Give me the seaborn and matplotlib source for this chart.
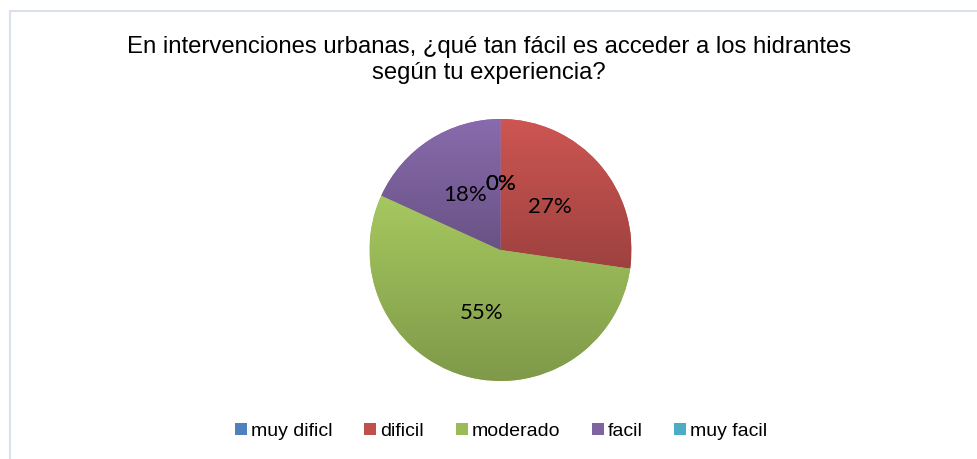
import numpy as np
import matplotlib
matplotlib.use("Agg")
import matplotlib.pyplot as plt
import matplotlib.colors as mcolors
from matplotlib.lines import Line2D
import seaborn as sns

categories = ["muy dificl", "dificil", "moderado", "facil", "muy facil"]
counts = [0, 3, 6, 2, 0]
pct_labels = ["0%", "27%", "55%", "18%", "0%"]
colors = ["#4F81BD", "#C0504D", "#9BBB59", "#8064A2", "#4BACC6"]
title = "En intervenciones urbanas, ¿qué tan fácil es acceder a los hidrantes\nsegún tu experiencia?"

sns.set_theme(style="white")
plt.rcParams["font.family"] = ["Liberation Sans", "DejaVu Sans"]
plt.rcParams["text.color"] = "black"

W, H = 978, 459
fig = plt.figure(figsize=(W / 100, H / 100), dpi=100)
ax = fig.add_axes([0, 0, 1, 1])

cx, cy, R = 500.5, H - 250, 131
wedges, _ = ax.pie(counts, colors=colors, startangle=90, counterclock=False,
                   radius=R, center=(cx, cy), frame=True,
                   wedgeprops=dict(linewidth=0))
ax.set_xlim(0, W)
ax.set_ylim(0, H)
ax.set_aspect("equal")
ax.axis("off")

def shade(c, f):
    r, g, b = mcolors.to_rgb(c)
    return np.clip(np.array((r * f, g * f, b * f)), 0, 1)

# gradient overlay: lighter top, darker bottom
for w, c in zip(wedges, colors):
    if w.theta2 - w.theta1 <= 0.01:
        continue
    bb = w.get_path().get_extents(w.get_patch_transform())
    top = shade(c, 1.07)
    bot = shade(c, 0.82)
    t = np.linspace(0, 1, 256)[:, None, None]
    img = top[None, None, :] * (1 - t) + bot[None, None, :] * t
    im = ax.imshow(img, extent=(bb.x0, bb.x1, bb.y0, bb.y1), origin="upper",
                   aspect="auto", zorder=w.get_zorder() + 0.1,
                   interpolation="bilinear")
    im.set_clip_path(w)
ax.set_xlim(0, W)
ax.set_ylim(0, H)
ax.set_aspect("equal")

# percentage labels
total = sum(counts)
ang = 90.0
for v, lab in zip(counts, pct_labels):
    span = 360.0 * v / total
    mid = np.deg2rad(ang - span / 2)
    x = cx + 0.5 * R * np.cos(mid)
    y = cy + 0.5 * R * np.sin(mid)
    ax.text(x, y, lab, ha="center", va="center", fontsize=16,
            family=["Lato", "DejaVu Sans"], color="black", zorder=10)
    ang -= span

fig.text(0.5, 1 - 60 / H, title, ha="center", va="center", fontsize=17.2,
         linespacing=1.25, color="black")

handles = [Line2D([], [], marker="s", linestyle="", markersize=9,
                  markerfacecolor=c, markeredgewidth=0) for c in colors]
leg = fig.legend(handles, categories, loc="center", bbox_to_anchor=(0.511, 1 - 431 / H),
                 ncol=5, frameon=False, fontsize=14, handletextpad=0.05,
                 columnspacing=1.5, handlelength=0.9)
for txt in leg.get_texts():
    txt.set_color("black")

# chart-area border (top and left visible)
fig.add_artist(Line2D([10 / W, 1], [1 - 11 / H] * 2, color="#D9E1EC", lw=1.5))
fig.add_artist(Line2D([10 / W] * 2, [0, 1 - 11 / H], color="#D9E1EC", lw=1.5))

fig.savefig("out.png", dpi=100, facecolor="white")
